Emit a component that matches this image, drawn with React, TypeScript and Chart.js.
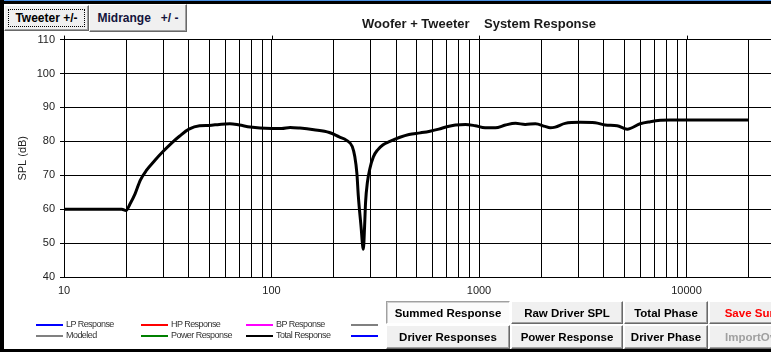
import React, { useEffect, useRef } from "react";
import { Chart, registerables } from "chart.js";

Chart.register(...registerables);

// ---- data ----
const FREQ_HZ = [
  10, 15, 19, 19.9, 20.8, 22, 23.3, 25, 27.5, 30, 33, 36, 40, 45, 50, 56, 63, 70, 79, 88,
  100, 112, 123, 137, 160, 190, 212, 230, 245, 252, 258, 262, 270, 277, 281, 284, 290, 298,
  310, 325, 345, 372, 416, 460, 520, 580, 640, 700, 770, 860, 960, 1070, 1200, 1340, 1500,
  1670, 1870, 2080, 2200, 2330, 2600, 3080, 3630, 4060, 4630, 5180, 5980, 6690, 7480, 8360,
  12000, 16000, 20000,
];
const SPL_DB = [
  60, 60, 60, 59.6, 61.5, 64.5, 68.5, 71.5, 74.5, 77, 79.5, 81.5, 83.6, 84.6, 84.7, 85, 85.2, 84.8, 84.2, 83.9,
  83.8, 83.8, 84.1, 83.9, 83.4, 82.6, 81.3, 80.3, 78.5, 75.5, 70.5, 64, 55, 48.2, 55, 62, 68, 72,
  75.5, 77.5, 79, 80, 81.2, 82, 82.5, 83, 83.6, 84.3, 84.8, 85, 84.6, 84, 84, 84.8, 85.3,
  85, 85.2, 84.4, 84, 84.2, 85.3, 85.6, 85.5, 84.8, 84.6, 83.6, 85.2, 85.8, 86.2, 86.3,
  86.3, 86.3, 86.3,
];
const X_GRID_TICKS = [
  10, 20, 30, 40, 50, 60, 70, 80, 90,
  100, 200, 300, 400, 500, 600, 700, 800, 900,
  1000, 2000, 3000, 4000, 5000, 6000, 7000, 8000, 9000,
  10000, 20000,
];
const X_LABELED = [10, 100, 1000, 10000];
const X_MIN = 10;
const X_MAX = 100000;
const Y_MIN = 40;
const Y_MAX = 110;
const Y_STEP = 10;
const TITLE = "Woofer + Tweeter    System Response";
const Y_TITLE = "SPL (dB)";
const SERIES_LABEL = "Total Response";

const LEGEND_ROW1 = [
  { label: "LP Response", color: "#0000ff" },
  { label: "HP Response", color: "#ff0000" },
  { label: "BP Response", color: "#ff00ff" },
  { label: "", color: "#808080" },
];
const LEGEND_ROW2 = [
  { label: "Modeled", color: "#808080" },
  { label: "Power Response", color: "#008000" },
  { label: "Total Response", color: "#000000" },
  { label: "", color: "#0000ff" },
];
const BUTTONS_ROW1 = ["Summed Response", "Raw Driver SPL", "Total Phase", "Save Summed"];
const BUTTONS_ROW2 = ["Driver Responses", "Power Response", "Driver Phase", "ImportOverlay"];

const FONT = "'Liberation Sans', Arial, sans-serif";

const topTicks = {
  id: "topTicks",
  afterDraw(chart: any) {
    const { ctx, chartArea, scales } = chart;
    const x = scales.x;
    ctx.save();
    ctx.strokeStyle = "#000";
    ctx.lineWidth = 1;
    for (const v of X_LABELED) {
      const px = Math.round(x.getPixelForValue(v)) + 0.5;
      ctx.beginPath();
      ctx.moveTo(px, chartArea.top - 4);
      ctx.lineTo(px, chartArea.top);
      ctx.stroke();
    }
    ctx.restore();
  },
};

function Btn(props: {
  x: number; y: number; w: number; h: number; label: string;
  color?: string; pressed?: boolean; size?: number; focus?: boolean; weight?: number;
}) {
  const { x, y, w, h, label, color = "#000", pressed = false, size = 11.5, focus = false, weight = 700 } = props;
  const base: React.CSSProperties = {
    position: "absolute", left: x, top: y, width: w, height: h, boxSizing: "border-box",
    background: pressed ? "#fbfbfb" : "#f0f0f0",
    borderTop: pressed ? "1px solid #a0a0a0" : "1px solid #ffffff",
    borderLeft: pressed ? "1px solid #a0a0a0" : "1px solid #ffffff",
    borderRight: pressed ? "1px solid #ffffff" : "1px solid #696969",
    borderBottom: pressed ? "1px solid #ffffff" : "1px solid #696969",
    boxShadow: pressed ? "inset 1px 1px #d0d0d0" : "inset -1px -1px #a0a0a0",
    display: "flex", alignItems: "center", justifyContent: "center",
    font: `${weight} ${size}px ${FONT}`, color, whiteSpace: "pre", overflow: "hidden",
  };
  return (
    <div style={base}>
      {focus && (
        <div style={{ position: "absolute", left: 3, top: 3, right: 3, bottom: 3, border: "1px dotted #000" }} />
      )}
      <span style={{ position: "relative", whiteSpace: "pre" }}>{label}</span>
    </div>
  );
}

function LegendRow({ items, y }: { items: { label: string; color: string }[]; y: number }) {
  const cols = [36, 141, 246, 351];
  return (
    <>
      {items.map((it, i) => (
        <React.Fragment key={i}>
          <div style={{ position: "absolute", left: cols[i], top: y - 1, width: 27, height: 2, background: it.color }} />
          {it.label && (
            <div style={{
              position: "absolute", left: cols[i] + 30, top: y - 6, height: 12, lineHeight: "12px",
              font: `400 9px ${FONT}`, letterSpacing: "-0.55px", color: "#333", whiteSpace: "nowrap",
            }}>{it.label}</div>
          )}
        </React.Fragment>
      ))}
    </>
  );
}

export default function App() {
  const ref = useRef<HTMLCanvasElement | null>(null);

  useEffect(() => {
    if (!ref.current) return;
    const chart = new Chart(ref.current, {
      type: "line",
      data: {
        datasets: [
          {
            label: SERIES_LABEL,
            data: FREQ_HZ.map((f, i) => ({ x: f, y: SPL_DB[i] })),
            borderColor: "#000",
            borderWidth: 3,
            pointRadius: 0,
            cubicInterpolationMode: "monotone",
            fill: false,
          },
        ],
      },
      options: {
        animation: false,
        responsive: false,
        maintainAspectRatio: false,
        devicePixelRatio: 1,
        layout: { padding: 0 },
        plugins: {
          legend: { display: false },
          tooltip: { enabled: false },
          title: {
            display: true,
            text: TITLE,
            fullSize: false,
            color: "#1a1a1a",
            font: { family: FONT, size: 13, weight: "bold" },
            padding: { top: 17, bottom: 7 },
          },
        },
        scales: {
          x: {
            type: "logarithmic",
            min: X_MIN,
            max: X_MAX,
            afterBuildTicks: (s: any) => {
              s.ticks = X_GRID_TICKS.map((v) => ({ value: v }));
            },
            afterFit: (s: any) => {
              s.height = 75;
            },
            grid: { color: "#000", lineWidth: 1, drawTicks: false },
            border: { display: true, color: "#000", width: 1 },
            ticks: {
              autoSkip: false,
              maxRotation: 0,
              padding: 7,
              color: "#222",
              font: { family: FONT, size: 11 },
              callback: (v: any) => (X_LABELED.includes(Number(v)) ? String(v) : ""),
            },
          },
          y: {
            min: Y_MIN,
            max: Y_MAX,
            afterFit: (s: any) => {
              s.width = 64;
            },
            grid: { color: "#000", lineWidth: 1, tickLength: 4 },
            border: { display: true, color: "#000", width: 1 },
            ticks: {
              stepSize: Y_STEP,
              padding: 5,
              color: "#222",
              font: { family: FONT, size: 11 },
            },
            title: {
              display: true,
              text: Y_TITLE,
              color: "#222",
              font: { family: FONT, size: 11 },
              padding: { top: 16, bottom: 0 },
            },
          },
        },
      } as any,
      plugins: [topTicks],
    });
    return () => chart.destroy();
  }, []);

  const colX = [386, 511, 624, 709];
  const colW = [124, 112, 84, 110];

  return (
    <div style={{ position: "fixed", left: 0, top: 0, width: 771, height: 352, overflow: "hidden", background: "#fff" }}>
      <canvas ref={ref} width={894} height={352} style={{ position: "absolute", left: 0, top: 0, width: 894, height: 352 }} />
      {/* window frame */}
      <div style={{ position: "absolute", left: 0, top: 0, width: 771, height: 1, background: "#4a90e2" }} />
      <div style={{ position: "absolute", left: 0, top: 1, width: 771, height: 3, background: "#000" }} />
      <div style={{ position: "absolute", left: 0, top: 0, width: 4, height: 352, background: "#000" }} />
      <div style={{ position: "absolute", left: 0, top: 349, width: 771, height: 3, background: "#000" }} />

      {/* top-left buttons */}
      <Btn x={4} y={5} w={85} h={26} label="Tweeter +/-" size={12} focus />
      <Btn x={89} y={4} w={98} h={28} label="Midrange   +/ -" size={12} color="#14143c" />

      {/* legend */}
      <LegendRow items={LEGEND_ROW1} y={325} />
      <LegendRow items={LEGEND_ROW2} y={336} />

      {/* bottom buttons */}
      {BUTTONS_ROW1.map((b, i) => (
        <Btn key={"r1" + i} x={colX[i]} y={301} w={colW[i]} h={23} label={b}
          pressed={i === 0} color={i === 3 ? "#ff0000" : "#000"} />
      ))}
      {BUTTONS_ROW2.map((b, i) => (
        <Btn key={"r2" + i} x={colX[i]} y={325} w={colW[i]} h={24} label={b}
          color={i === 3 ? "#a0a0a0" : "#000"} />
      ))}
    </div>
  );
}
